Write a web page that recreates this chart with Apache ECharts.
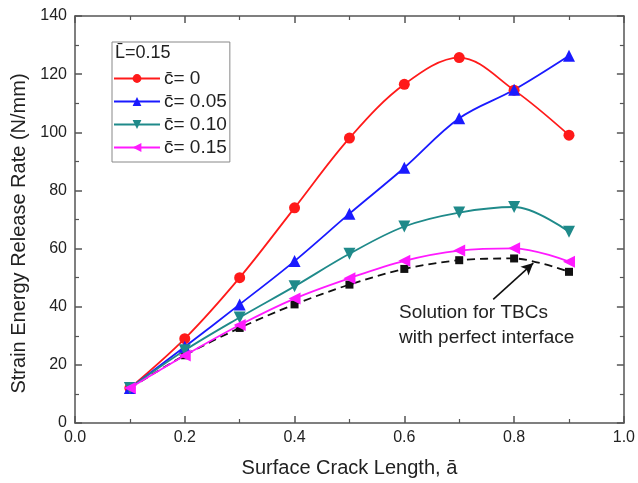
<!DOCTYPE html>
<html>
<head>
<meta charset="utf-8">
<script src="https://cdn.jsdelivr.net/npm/echarts@6/dist/echarts.min.js"></script>
<style>
  html, body { margin: 0; padding: 0; background: #fff; }
  #main { width: 638px; height: 483px; }
</style>
</head>
<body>
<div id="main"></div>
<script>
// crack lengths (a bar)
const crackLen = [0.1, 0.2, 0.3, 0.4, 0.5, 0.6, 0.7, 0.8, 0.9];
// strain energy release rate, N/mm
const c000 = [12, 29, 50, 74, 98, 116.5, 125.7, 114.5, 99];
const c005 = [12, 26.2, 40.8, 55.7, 72, 87.8, 104.8, 114.6, 126.3];
const c010 = [12, 25, 36.3, 47, 58.2, 67.6, 72.4, 74.3, 65.8];
const c015 = [12, 23.2, 33.7, 42.8, 49.8, 55.8, 59.3, 60.1, 55.5];
const perfect = [12, 23.3, 32.7, 40.8, 47.6, 53, 56, 56.6, 52];

const legendNames = ['c\u0304= 0', 'c\u0304= 0.05', 'c\u0304= 0.10', 'c\u0304= 0.15'];

const font = 'Liberation Sans, Arial, sans-serif';
const axisColor = '#555';

function pairs(vals) {
  return crackLen.map((x, i) => [x, vals[i]]);
}

let chart = echarts.init(document.getElementById('main'));

let curve = (name, vals, color, symbol, size) => ({
  name: name,
  type: 'line',
  data: pairs(vals),
  smooth: 0.35,
  symbol: symbol,
  symbolSize: size,
  showSymbol: true,
  lineStyle: { color: color, width: 1.8 },
  itemStyle: { color: color },
  z: 3
});

let option = {
  animation: false,
  backgroundColor: '#fff',
  grid: { left: 75, right: 11, top: 16, bottom: 58 },
  legend: {
    left: 112,
    top: 42,
    orient: 'vertical',
    padding: [27, 3, 5, 1],
    itemGap: 4,
    itemWidth: 46,
    itemHeight: 11,
    borderColor: '#888',
    borderWidth: 1,
    textStyle: { fontFamily: font, fontSize: 19, color: '#222', padding: [0, 0, 0, -1] },
    data: legendNames
  },
  graphic: [
    {
      type: 'text', left: 115, top: 44,
      style: { text: 'L\u0304=0.15', font: '18px ' + font, fill: '#222' }
    },
    {
      type: 'text', left: 399, top: 300,
      style: {
        text: 'Solution for TBCs\nwith perfect interface',
        font: '19px ' + font, fill: '#222', lineHeight: 25
      }
    }
  ],
  xAxis: [{
    type: 'value',
    min: 0, max: 1, interval: 0.2,
    name: 'Surface Crack Length, a\u0304',
    nameLocation: 'middle',
    nameGap: 35,
    nameTextStyle: { fontFamily: font, fontSize: 20, color: '#222' },
    axisLine: { lineStyle: { color: axisColor, width: 1.5 } },
    axisTick: { inside: true, length: 7, lineStyle: { color: axisColor, width: 1.5 } },
    minorTick: { show: true, splitNumber: 2, length: 4, lineStyle: { color: axisColor, width: 1.2 } },
    axisLabel: { fontFamily: font, fontSize: 16, color: '#222', margin: 7,
      formatter: v => v.toFixed(1) },
    splitLine: { show: false }
  }, {
    type: 'value', position: 'top',
    min: 0, max: 1, interval: 0.2,
    axisLine: { show: true, onZero: false, lineStyle: { color: axisColor, width: 1.5 } },
    axisTick: { inside: true, length: 7, lineStyle: { color: axisColor, width: 1.5 } },
    minorTick: { show: true, splitNumber: 2, length: 4, lineStyle: { color: axisColor, width: 1.2 } },
    axisLabel: { show: false },
    splitLine: { show: false }
  }],
  yAxis: [{
    type: 'value',
    min: 0, max: 140, interval: 20,
    name: 'Strain Energy Release Rate (N/mm)',
    nameLocation: 'middle',
    nameGap: 43,
    nameTextStyle: { fontFamily: font, fontSize: 20, color: '#222', padding: [0, 28, 0, 0] },
    axisLine: { show: true, lineStyle: { color: axisColor, width: 1.5 } },
    axisTick: { show: true, inside: true, length: 7, lineStyle: { color: axisColor, width: 1.5 } },
    minorTick: { show: true, splitNumber: 2, length: 4, lineStyle: { color: axisColor, width: 1.2 } },
    axisLabel: { fontFamily: font, fontSize: 16, color: '#222', margin: 8 },
    splitLine: { show: false }
  }, {
    type: 'value', position: 'right',
    min: 0, max: 140, interval: 20,
    axisLine: { show: true, onZero: false, lineStyle: { color: axisColor, width: 1.5 } },
    axisTick: { show: true, inside: true, length: 7, lineStyle: { color: axisColor, width: 1.5 } },
    minorTick: { show: true, splitNumber: 2, length: 4, lineStyle: { color: axisColor, width: 1.2 } },
    axisLabel: { show: false },
    splitLine: { show: false }
  }],
  series: [
    curve(legendNames[0], c000, '#ff1a1a', 'circle', 11),
    curve(legendNames[1], c005, '#1a1aff', 'triangle', 12),
    curve(legendNames[2], c010, '#1f8a8a', 'path://M0,0 L10,0 L5,9 Z', 12),
    curve(legendNames[3], c015, '#ff1aff', 'path://M9,0 L0,5 L9,10 Z', 12),
    {
      name: 'perfect',
      type: 'line',
      data: pairs(perfect),
      smooth: 0.3,
      symbol: 'rect',
      symbolSize: 8,
      lineStyle: { color: '#111', width: 1.8, type: [8, 5] },
      itemStyle: { color: '#111' },
      z: 2,
      markLine: {
        silent: true,
        symbol: ['none', 'arrow'],
        symbolSize: [9, 12],
        label: { show: false },
        lineStyle: { color: '#111', width: 1.6, type: 'solid' },
        data: [[{ coord: [0.762, 42.5] }, { coord: [0.835, 55] }]]
      }
    }
  ]
};

chart.setOption(option);
</script>
</body>
</html>
